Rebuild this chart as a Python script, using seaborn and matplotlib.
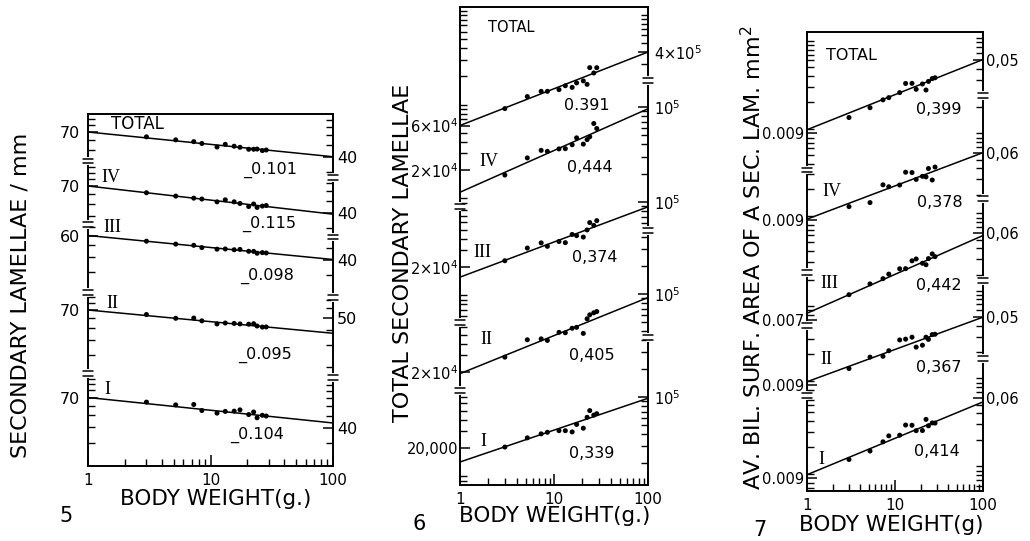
import numpy as np
import pandas as pd
import matplotlib
matplotlib.use("Agg")
import matplotlib.pyplot as plt
from matplotlib.lines import Line2D
from matplotlib.ticker import NullFormatter, FixedLocator, LogLocator
import seaborn as sns

sns.set_theme(style="ticks", rc={"text.color": "black", "axes.labelcolor": "black",
                                 "xtick.color": "black", "ytick.color": "black",
                                 "axes.edgecolor": "black"})
plt.rcParams['font.family'] = ['DejaVu Sans']
plt.rcParams['mathtext.fontset'] = 'dejavusans'

# ---------------- data ----------------
groups = ["TOTAL", "IV", "III", "II", "I"]
body_weight = [3.0, 5.2, 7.3, 8.5, 11.3, 13.2, 15.6, 17.4, 20.5, 22.5, 24.0, 26.5, 28.5]

# Fig. 5: secondary lamellae / mm
f5_total = [63.9, 60.4, 58.4, 56.4, 52.8, 55.5, 53.6, 52.5, 50.6, 50.6, 50.8, 49.4, 49.9]
f5_iv = [61.7, 57.9, 55.7, 54.8, 52.0, 54.0, 52.0, 50.4, 47.6, 49.9, 46.8, 48.0, 48.5]
f5_iii = [53.9, 51.05, 49.9, 47.8, 46.4, 46.6, 45.9, 46.2, 44.6, 44.5, 43.0, 43.5, 43.2]
f5_ii = [64.3, 59.9, 60.2, 57.1, 53.9, 54.8, 54.4, 53.9, 53.6, 54.1, 51.8, 50.8, 50.9]
f5_i = [64.2, 60.9, 61.4, 54.8, 52.2, 53.9, 54.2, 55.5, 50.8, 53.3, 47.8, 50.1, 49.4]
f5_slope = [-0.101, -0.115, -0.098, -0.095, -0.104]
f5_icpt = [70, 70, 60, 70, 70]
f5_slope_text = ["_0.101", "_0.115", "_0.098", "_0.095", "_0.104"]
f5_left_tick = [70, 70, 60, 70, 70]
f5_left_text = ["70", "70", "60", "70", "70"]
f5_right_tick = [40, 40, 40, 50, 40]
f5_right_text = ["40", "40", "40", "50", "40"]

# Fig. 6: total secondary lamellae
f6_total = [90800, 121900, 138500, 138500, 144500, 159000, 152600, 170400, 179000, 164400, 247600, 217200, 247300]
f6_iv = [17680, 26890, 32350, 31580, 33530, 33730, 37130, 43980, 37710, 42110, 45170, 62460, 55290]
f6_iii = [23310, 31810, 36110, 33200, 37340, 36310, 44360, 43130, 41630, 49600, 59380, 55390, 62240]
f6_ii = [28790, 44030, 45000, 43370, 52810, 52280, 58420, 59750, 51490, 73630, 81210, 85330, 87930]
f6_i = [20470, 25650, 28280, 29390, 30600, 30560, 29660, 35610, 32470, 42430, 50000, 44770, 46340]
f6_slope = [0.391, 0.444, 0.374, 0.405, 0.339]
f6_icpt = [60000, 11600, 15600, 19200, 14200]
f6_slope_text = ["0.391", "0,444", "0,374", "0,405", "0,339"]
f6_left_tick = [6e4, 2e4, 2e4, 2e4, 2e4]
f6_left_text = [r"$6{\times}10^4$", r"$2{\times}10^4$", r"$2{\times}10^4$", r"$2{\times}10^4$", "20,000"]
f6_right_tick = [4e5, 1e5, 1e5, 1e5, 1e5]
f6_right_text = [r"$4{\times}10^5$", r"$10^5$", r"$10^5$", r"$10^5$", r"$10^5$"]

# Fig. 7: average bilateral surface area of a secondary lamella (mm^2)
f7_total = [0.01349, 0.01744, 0.02143, 0.02271, 0.02591, 0.03291, 0.03301, 0.02825, 0.03245, 0.02772, 0.03471, 0.03738, 0.03819]
f7_iv = [0.01278, 0.01419, 0.02260, 0.02148, 0.02247, 0.03143, 0.03116, 0.02604, 0.02822, 0.02779, 0.03461, 0.02562, 0.03597]
f7_iii = [0.01357, 0.01800, 0.02064, 0.02326, 0.02673, 0.02684, 0.03293, 0.03457, 0.03091, 0.02975, 0.03493, 0.03948, 0.03671]
f7_ii = [0.01384, 0.01866, 0.01908, 0.02206, 0.02927, 0.02989, 0.03145, 0.02425, 0.02548, 0.03146, 0.02969, 0.03366, 0.03395]
f7_i = [0.01461, 0.01825, 0.02321, 0.02711, 0.02759, 0.03597, 0.03577, 0.03106, 0.03114, 0.04173, 0.03527, 0.03804, 0.03789]
f7_slope = [0.399, 0.378, 0.442, 0.367, 0.414]
f7_icpt = [0.0098, 0.0092, 0.00835, 0.0098, 0.0098]
f7_slope_text = ["0,399", "0,378", "0,442", "0,367", "0,414"]
f7_left_tick = [0.009, 0.009, 0.007, 0.009, 0.009]
f7_left_text = ["0.009", "0.009", "0.007", "0.009", "0.009"]
f7_right_tick = [0.05, 0.06, 0.06, 0.05, 0.06]
f7_right_text = ["0,05", "0,06", "0,06", "0,05", "0,06"]

x_ticks = [1, 10, 100]
x_tick_text = ["1", "10", "100"]

# ---------------- layout (pixels) ----------------
W, H = 1030, 541
fig = plt.figure(figsize=(W / 100, H / 100), dpi=100)


def fx(px):
    return px / W


def fy(py):
    return 1 - py / H


panels = [
    dict(num="5", frame=(88, 114, 333, 466),
         values=[f5_total, f5_iv, f5_iii, f5_ii, f5_i], slope=f5_slope, icpt=f5_icpt,
         stext=f5_slope_text, lt=f5_left_tick, ltext=f5_left_text, rt=f5_right_tick, rtext=f5_right_text,
         lref=[132, 186, 235.5, 310, 397.5], rref=[157, 213, 260, 318, 428],
         lseg=[114, 161, 224, 292, 373, 466], lbreak=[161, 224, 292, 373],
         rseg=[114, 177, 237, 297, 377, 466], rbreak=[177, 237, 297, 377],
         gpos=[(137, 124), (111, 178), (112, 227), (112, 303), (107, 390)], gsize=[12, 13, 13, 13, 13],
         spos=[(270, 170), (269, 224), (267, 276), (265, 355), (257, 435)],
         tsize=11.5, lpad=5.5, rpad=3, xsize=11,
         ylabel="SECONDARY LAMELLAE / mm", ylpos=(21, 295), xlabel="BODY WEIGHT(g.)", xlpos=(216, 499),
         numpos=(66, 516)),
    dict(num="6", frame=(460, 7, 648, 485),
         values=[f6_total, f6_iv, f6_iii, f6_ii, f6_i], slope=f6_slope, icpt=f6_icpt,
         stext=f6_slope_text, lt=f6_left_tick, ltext=f6_left_text, rt=f6_right_tick, rtext=f6_right_text,
         lref=[125.5, 170, 267, 372, 448], rref=[52, 107, 202, 294, 397],
         lseg=[7, 150, 206, 322, 390, 485], lbreak=[206, 322, 390],
         rseg=[7, 80, 150, 230, 337, 485], rbreak=[80, 230, 337],
         gpos=[(511, 27), (489, 162), (482, 253), (486, 340), (483, 441)], gsize=[10.5, 13, 13, 13, 13],
         spos=[(587, 105), (590, 167), (595, 258), (592, 355), (592, 453)],
         tsize=10.5, lpad=1.5, rpad=4, xsize=11,
         ylabel="TOTAL SECONDARY LAMELLAE", ylpos=(403, 253), xlabel="BODY WEIGHT(g.)", xlpos=(555, 516),
         numpos=(419, 524)),
    dict(num="7", frame=(807, 32, 983, 491),
         values=[f7_total, f7_iv, f7_iii, f7_ii, f7_i], slope=f7_slope, icpt=f7_icpt,
         stext=f7_slope_text, lt=f7_left_tick, ltext=f7_left_text, rt=f7_right_tick, rtext=f7_right_text,
         lref=[133, 220, 320, 385, 478], rref=[60, 153, 233, 317, 398],
         lseg=[32, 170, 272, 325, 395, 491], lbreak=[170, 272, 325, 395],
         rseg=[32, 95, 198, 280, 358, 491], rbreak=[95, 198, 280, 358],
         gpos=[(851, 56), (832, 191), (829, 284), (826, 360), (821, 459)], gsize=[11.5, 13, 13, 13, 13],
         spos=[(939, 110), (940, 202), (939, 285), (939, 367), (937, 452)],
         tsize=10.5, lpad=2, rpad=2, xsize=11,
         ylabel="AV. BIL. SURF. AREA OF A SEC. LAM. mm$^2$", ylpos=(753, 258), xlabel="BODY WEIGHT(g)",
         xlpos=(891, 525), numpos=(760, 530)),
]


def seg_ticks(v, py, k, top, bot):
    lo = v * 10 ** (-(bot - 3 - py) / k)
    hi = v * 10 ** ((py - top - 3) / k)
    out = []
    for e in range(-4, 8):
        for m in range(1, 10):
            t = m * 10.0 ** e
            if lo < t < hi:
                out.append(t)
    return out


def draw_break(xp, yp):
    fig.add_artist(Line2D([fx(xp), fx(xp)], [fy(yp - 2.5), fy(yp + 2.5)],
                          transform=fig.transFigure, color="white", lw=3, zorder=20))
    for dy in (-2.5, 2.5):
        fig.add_artist(Line2D([fx(xp - 5), fx(xp + 5)], [fy(yp + dy), fy(yp + dy)],
                              transform=fig.transFigure, color="black", lw=1.1, zorder=21))


for P in panels:
    L, T, R, B = P["frame"]
    k = (R - L) / 2.0
    rect = [fx(L), fy(B), fx(R) - fx(L), fy(T) - fy(B)]

    fr = fig.add_axes(rect, label="frame" + P["num"])
    fr.set_xscale("log")
    fr.set_xlim(1, 100)
    fr.set_xticks(x_ticks, labels=x_tick_text)
    fr.xaxis.set_minor_locator(LogLocator(base=10, subs=np.arange(2, 10)))
    fr.xaxis.set_minor_formatter(NullFormatter())
    fr.tick_params(axis="x", which="major", direction="in", length=8, width=1.1,
                   labelsize=P["xsize"], pad=5, bottom=True, top=False)
    fr.tick_params(axis="x", which="minor", direction="in", length=5, width=1.0, bottom=True, top=False)
    fr.set_yticks([])
    fr.tick_params(axis="y", left=False, right=False)
    for sp in fr.spines.values():
        sp.set_visible(True)
        sp.set_linewidth(1.4)
        sp.set_color("black")

    for i, g in enumerate(groups):
        ax = fig.add_axes(rect, label=f"{P['num']}-{g}")
        ax.patch.set_visible(False)
        for sp in ax.spines.values():
            sp.set_visible(False)
        ax.set_xscale("log")
        ax.set_yscale("log")
        ax.set_xlim(1, 100)
        v, py = P["lt"][i], P["lref"][i]
        ax.set_ylim(v * 10 ** (-(B - py) / k), v * 10 ** ((py - T) / k))

        pts = pd.DataFrame({"weight": body_weight, "value": P["values"][i]})
        sns.scatterplot(data=pts, x="weight", y="value", ax=ax, color="black", s=13,
                        edgecolor="none", legend=False)
        fit = pd.DataFrame({"weight": [1, 100],
                            "value": [P["icpt"][i], P["icpt"][i] * 100 ** P["slope"][i]]})
        sns.lineplot(data=fit, x="weight", y="value", ax=ax, color="black", linewidth=1.1)
        ax.set_xlabel("")
        ax.set_ylabel("")
        ax.tick_params(axis="x", which="both", bottom=False, top=False, labelbottom=False)

        ax.set_yticks([v], labels=[P["ltext"][i]])
        ax.yaxis.set_minor_locator(FixedLocator(seg_ticks(v, py, k, P["lseg"][i], P["lseg"][i + 1])))
        ax.yaxis.set_minor_formatter(NullFormatter())
        ax.tick_params(axis="y", which="major", direction="in", length=7, width=1.1,
                       left=True, right=False, labelleft=True, labelright=False,
                       labelsize=P["tsize"], pad=P["lpad"])
        ax.tick_params(axis="y", which="minor", direction="in", length=5, width=1.0,
                       left=True, right=False)

        ax2 = ax.twinx()
        for sp in ax2.spines.values():
            sp.set_visible(False)
        ax2.set_yscale("log")
        rv, rpy = P["rt"][i], P["rref"][i]
        ax2.set_ylim(rv * 10 ** (-(B - rpy) / k), rv * 10 ** ((rpy - T) / k))
        ax2.set_yticks([rv], labels=[P["rtext"][i]])
        ax2.yaxis.set_minor_locator(FixedLocator(seg_ticks(rv, rpy, k, P["rseg"][i], P["rseg"][i + 1])))
        ax2.yaxis.set_minor_formatter(NullFormatter())
        ax2.tick_params(axis="y", which="major", direction="in", length=7, width=1.1,
                        left=False, right=True, labelleft=False, labelright=True,
                        labelsize=P["tsize"], pad=P["rpad"])
        ax2.tick_params(axis="y", which="minor", direction="in", length=5, width=1.0,
                        left=False, right=True)

        gx, gy = P["gpos"][i]
        fam = ["DejaVu Sans"] if g == "TOTAL" else ["Liberation Serif", "DejaVu Serif"]
        fig.text(fx(gx), fy(gy), g, ha="center", va="center", fontsize=P["gsize"][i], family=fam)
        sx, sy = P["spos"][i]
        fig.text(fx(sx), fy(sy), P["stext"][i], ha="center", va="center", fontsize=11.5)

    for b in P["lbreak"]:
        draw_break(L, b)
    for b in P["rbreak"]:
        draw_break(R, b)

    fig.text(fx(P["ylpos"][0]), fy(P["ylpos"][1]), P["ylabel"], rotation=90,
             ha="center", va="center", fontsize=16)
    fig.text(fx(P["xlpos"][0]), fy(P["xlpos"][1]), P["xlabel"], ha="center", va="center", fontsize=15.5)
    fig.text(fx(P["numpos"][0]), fy(P["numpos"][1]), P["num"], ha="center", va="center", fontsize=15)

fig.savefig("out.png", dpi=100, facecolor="white")
